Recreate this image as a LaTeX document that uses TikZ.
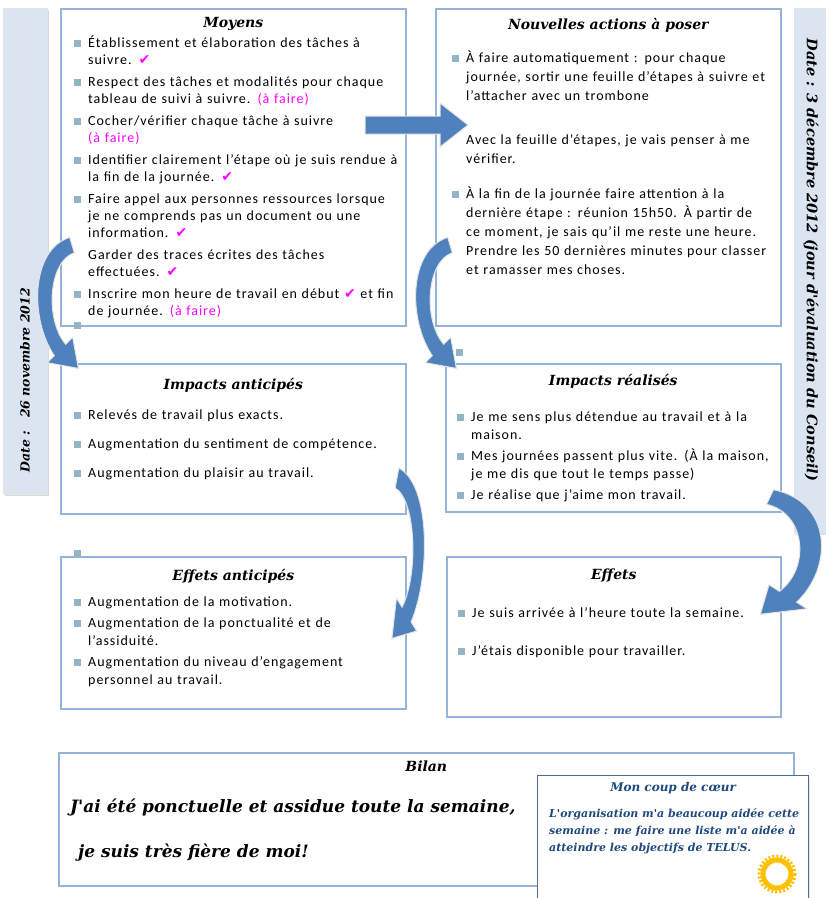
\documentclass[tikz,border=0pt]{standalone}
\usepackage{fontspec}
\setmainfont{Carlito}[LetterSpace=7]
\newfontfamily\titrefont{DejaVu Serif}
\newfontfamily\cochefont{DejaVu Sans}
\usetikzlibrary{positioning,shadows}

\definecolor{bordbleu}{HTML}{95B3D7}
\definecolor{fondbande}{HTML}{DBE5F1}
\definecolor{flechebleu}{HTML}{4F81BD}
\definecolor{pucecol}{HTML}{93B3C6}
\definecolor{rose}{HTML}{FF00FF}
\definecolor{coeurbleu}{HTML}{1F497D}
\definecolor{soleil}{HTML}{FFC000}

\newcommand{\puce}{\par\noindent\hangindent=14pt\hangafter=1\makebox[14pt][l]{\textcolor{pucecol}{\rule{7pt}{7pt}}}}
\newcommand{\sanspuce}{\par\noindent\hangindent=14pt\hangafter=0}
\newcommand{\ok}{\textcolor{rose}{\cochefont ✔}}
\newcommand{\afaire}{\textcolor{rose}{(à faire)}}

\tikzset{
  boite/.style={draw=bordbleu, line width=1.6pt, fill=white, anchor=north west, inner sep=0pt,
    drop shadow={opacity=0.2, shadow xshift=1.5pt, shadow yshift=-1.5pt}},
  bande/.style={draw=white!80!gray, line width=0.8pt, fill=fondbande, anchor=north west, inner sep=0pt,
    drop shadow={opacity=0.3, shadow xshift=2pt, shadow yshift=-2pt}},
  titre/.style={font=\titrefont\bfseries\itshape\fontsize{14}{16}\selectfont, inner sep=0pt},
  datetxt/.style={font=\titrefont\bfseries\itshape\fontsize{12.5}{14}\selectfont, inner sep=0pt},
  liste/.style={font=\fontsize{14}{17}\selectfont, align=left, inner sep=0pt, text width=#1,
    execute at begin node={\setlength{\parskip}{5pt}}},
  fleche/.style={fill=flechebleu, draw=white!80!gray, line width=1pt},
  courbe/.pic={
    \path[fleche] (-2.3,-7.7) .. controls (-42,5) and (-42,75) .. (-17.7,110.7)
      -- (-24.7,117.7) -- (6.4,123.4) -- (0.7,92.3) -- (-6.3,99.3)
      .. controls (-27,75) and (-24,17) .. (2.3,7.7) -- cycle;
  }
}

\begin{document}
\begin{tikzpicture}[x=1pt, y=-1pt]
\useasboundingbox (0,0) rectangle (826,898);

% bandes de date
\node[bande, minimum width=44, minimum height=486] (bandeG) at (3,8) {};
\node[bande, minimum width=40, minimum height=525] (bandeD) at (794,8) {};
\node[datetxt, rotate=90] (dateG) at (25,380) {Date :\quad 26 novembre 2012};
\node[datetxt, rotate=-90, font=\titrefont\bfseries\itshape\fontsize{14.5}{16}\selectfont] (dateD) at (811,260)
  {Date : 3 décembre 2012 (jour d'évaluation du Conseil)};

% moyens
\node[boite, minimum width=345, minimum height=317] (moyens) at (60,8) {};
\node[titre, below=9pt of moyens.north] (moyensT) {Moyens};
\node[liste=330pt, below right=17pt and 14pt of moyens.north west] (moyensL) {
  \puce Établissement et élaboration des tâches à\newline suivre. \ok
  \puce Respect des tâches et modalités pour chaque\newline tableau de suivi à suivre. \afaire
  \puce Cocher/vérifier chaque tâche à suivre\newline \afaire
  \puce Identifier clairement l'étape où je suis rendue à\newline la fin de la journée. \ok
  \puce Faire appel aux personnes ressources lorsque\newline je ne comprends pas un document ou une\newline information. \ok
  \sanspuce Garder des traces écrites des tâches\newline effectuées. \ok
  \puce Inscrire mon heure de travail en début \ok{} et fin\newline de journée. \afaire\par
};

% nouvelles actions
\node[boite, minimum width=345, minimum height=317] (actions) at (435,8) {};
\node[titre, below=10pt of actions.north] (actionsT) {Nouvelles actions à poser};
\node[liste=325pt, font=\fontsize{14}{19}\selectfont, below right=30pt and 17pt of actions.north west] (actionsL) {
  \puce À faire automatiquement : pour chaque\newline journée, sortir une feuille d'étapes à suivre et\newline l'attacher avec un trombone
  \par\vspace{20pt}
  \sanspuce Avec la feuille d'étapes, je vais penser à me\newline vérifier.
  \par\vspace{11pt}
  \puce À la fin de la journée faire attention à la\newline dernière étape : réunion 15h50. À partir de\newline ce moment, je sais qu'il me reste une heure.\newline Prendre les 50 dernières minutes pour classer\newline et ramasser mes choses.\par
};

% impacts
\node[boite, minimum width=345, minimum height=150] (impA) at (60,363) {};
\node[titre, below=15pt of impA.north] (impAT) {Impacts anticipés};
\node[liste=330pt, below right=27pt and 14pt of impA.north west,
  execute at begin node={\setlength{\parskip}{12pt}}] (impAL) {
  \puce Relevés de travail plus exacts.
  \puce Augmentation du sentiment de compétence.
  \puce Augmentation du plaisir au travail.\par
};

\node[boite, minimum width=335, minimum height=148] (impR) at (445,363) {};
\node[titre, below=11pt of impR.north] (impRT) {Impacts réalisés};
\node[liste=320pt, font=\fontsize{14}{18}\selectfont, below right=37pt and 12pt of impR.north west,
  execute at begin node={\setlength{\parskip}{3pt}}] (impRL) {
  \puce Je me sens plus détendue au travail et à la\newline maison.
  \puce Mes journées passent plus vite. (À la maison,\newline je me dis que tout le temps passe)
  \puce Je réalise que j'aime mon travail.\par
};

% effets
\node[boite, minimum width=345, minimum height=152] (effA) at (60,556) {};
\node[titre, below=13pt of effA.north] (effAT) {Effets anticipés};
\node[liste=330pt, font=\fontsize{14}{18}\selectfont, below right=29pt and 14pt of effA.north west,
  execute at begin node={\setlength{\parskip}{3pt}}] (effAL) {
  \puce Augmentation de la motivation.
  \puce Augmentation de la ponctualité et de\newline l'assiduité.
  \puce Augmentation du niveau d'engagement\newline personnel au travail.\par
};

\node[boite, minimum width=334, minimum height=160] (eff) at (446,556) {};
\node[titre, below=13pt of eff.north] (effT) {Effets};
\node[liste=318pt, below right=23pt and 12pt of eff.north west,
  execute at begin node={\setlength{\parskip}{21pt}}] (effL) {
  \puce Je suis arrivée à l'heure toute la semaine.
  \puce J'étais disponible pour travailler.\par
};

% bilan
\node[boite, minimum width=735, minimum height=133] (bilan) at (58,752) {};
\node[titre, below=9pt of bilan.north] (bilanT) {Bilan};
\node[align=left, inner sep=0pt, font=\titrefont\bfseries\itshape\fontsize{17}{45}\selectfont,
  below right=47pt and 12pt of bilan.north west] (bilanL)
  {J'ai été ponctuelle et assidue toute la semaine,\\\hspace{8pt}je suis très fière de moi!};

% coup de coeur
\node[boite, draw=coeurbleu!80, line width=1.2pt, minimum width=271, minimum height=130] (coeur) at (537,775) {};
\node[titre, text=coeurbleu, font=\titrefont\bfseries\itshape\fontsize{12}{14}\selectfont,
  below=7pt of coeur.north] (coeurT) {Mon coup de cœur};
\node[align=left, inner sep=0pt, text=coeurbleu, font=\titrefont\bfseries\itshape\fontsize{11}{17}\selectfont,
  below right=33pt and 12pt of coeur.north west] (coeurL)
  {L'organisation m'a beaucoup aidée cette\\semaine : me faire une liste m'a aidée à\\atteindre les objectifs de TELUS.};
\draw[soleil, line width=5pt] (777,874) circle[radius=14];
\draw[soleil, line width=3pt, dash pattern=on 2pt off 2pt] (777,874) circle[radius=18];

% puces perdues
\fill[pucecol] (74,322) rectangle (81,329);
\fill[pucecol] (456,349) rectangle (463,356);
\fill[pucecol] (74,550) rectangle (81,557);

% fleches
\draw[fleche] (365,116) -- (440,116) -- (440,103) -- (468,125) -- (440,147) -- (440,134) -- (365,134) -- cycle;
\pic at (72,245) {courbe};
\pic at (450,245) {courbe};
\pic[xscale=-0.8, yscale=1.3] at (397,478) {courbe};
\pic[xscale=-1.5, yscale=0.95] at (770,497) {courbe};

\end{tikzpicture}
\end{document}
